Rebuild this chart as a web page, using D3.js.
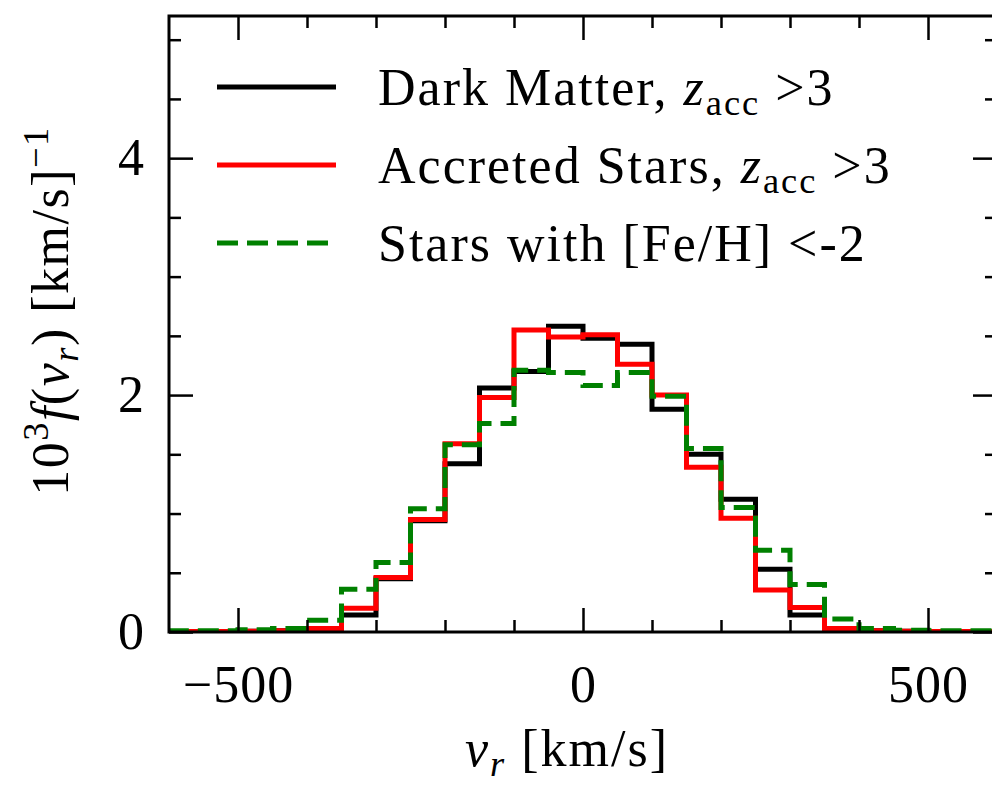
<!DOCTYPE html>
<html>
<head>
<meta charset="utf-8">
<script src="https://cdn.jsdelivr.net/npm/d3@7"></script>
<style>
    body { margin: 0; background: #fff; }
    svg { display: block; }
    text { font-family: "Liberation Serif", "DejaVu Serif", serif; fill: #000; }
</style>
</head>
<body>
<div id="chart"></div>
<script>
// histogram bin edges, v_r in km/s
const binEdges = [-600, -550, -500, -450, -400, -350, -300, -250, -200, -150, -100, -50,
    0, 50, 100, 150, 200, 250, 300, 350, 400, 450, 500, 550, 600];

// 10^3 f(v_r) per bin
const darkMatter = [0.003, 0.004, 0.006, 0.01, 0.025, 0.144, 0.45, 0.94, 1.42, 2.06, 2.20, 2.58,
    2.48, 2.43, 1.88, 1.50, 1.12, 0.53, 0.144, 0.025, 0.01, 0.006, 0.004, 0.003];
const accretedStars = [0.004, 0.005, 0.006, 0.01, 0.03, 0.20, 0.46, 0.95, 1.59, 1.98, 2.55, 2.49,
    2.51, 2.26, 2.00, 1.39, 0.96, 0.355, 0.206, 0.03, 0.01, 0.006, 0.005, 0.004];
const metalPoorStars = [0.01, 0.01, 0.02, 0.03, 0.10, 0.36, 0.586, 1.04, 1.58, 1.76, 2.21, 2.19,
    2.08, 2.19, 1.99, 1.55, 1.05, 0.69, 0.40, 0.11, 0.03, 0.015, 0.01, 0.01];

const xMajorTicks = [-500, 0, 500];
const xMinorTicks = [-400, -300, -200, -100, 100, 200, 300, 400];
const yMajorTicks = [0, 2, 4];
const yMinorTicks = [0.5, 1, 1.5, 2.5, 3, 3.5, 4.5, 5];

const series = [
    {values: darkMatter, color: "#000000", dash: null,
        label: [["Dark Matter, "], ["z", "it"], ["acc", "sub"], [" >3"]]},
    {values: accretedStars, color: "#ff0000", dash: null,
        label: [["Accreted Stars, "], ["z", "it"], ["acc", "sub"], [" >3"]]},
    {values: metalPoorStars, color: "#008000", dash: "21,9",
        label: [["Stars with [Fe/H] <-2"]]}
];

const width = 992, height = 785;
const margin = {top: 16, right: -5, bottom: 153, left: 169};
const fontSize = 52;

const svg = d3.select("#chart").append("svg")
    .attr("width", width)
    .attr("height", height);

const x = d3.scaleLinear()
    .domain([-600, 600])
    .range([margin.left, width - margin.right]);

const y = d3.scaleLinear()
    .domain([0, 5.2])
    .range([height - margin.bottom, margin.top]);

svg.append("clipPath")
    .attr("id", "plot-clip")
    .append("rect")
    .attr("x", x(-600))
    .attr("y", y(5.2))
    .attr("width", x(600) - x(-600))
    .attr("height", y(0) - y(5.2));

// step outline like matplotlib histtype="step"
function stepPoints(values) {
    const pts = [[binEdges[0], 0]];
    values.forEach((v, i) => {
        pts.push([binEdges[i], v]);
        pts.push([binEdges[i + 1], v]);
    });
    pts.push([binEdges[binEdges.length - 1], 0]);
    return pts;
}

const line = d3.line()
    .x(d => x(d[0]))
    .y(d => y(d[1]));

svg.append("g")
    .attr("clip-path", "url(#plot-clip)")
    .selectAll("path")
    .data(series)
    .join("path")
    .attr("d", d => line(stepPoints(d.values)))
    .attr("fill", "none")
    .attr("stroke", d => d.color)
    .attr("stroke-width", 5)
    .attr("stroke-linejoin", "miter")
    .attr("stroke-dasharray", d => d.dash);

// ticks point inwards on all four sides
function tickGroup(axis, transform) {
    const g = svg.append("g")
        .attr("transform", transform)
        .call(axis);
    g.select(".domain").remove();
    g.selectAll(".tick line").attr("stroke", "#000").attr("stroke-width", 2.5);
    g.selectAll("text")
        .style("font-family", '"Liberation Serif", serif')
        .style("font-size", fontSize + "px")
        .style("letter-spacing", "1px")
        .attr("fill", "#000");
    return g;
}

const y0 = y(0), yTop = y(5.2), xLeft = x(-600), xRight = x(600);
const intFormat = d3.format("d");

tickGroup(d3.axisBottom(x).tickValues(xMajorTicks).tickSizeInner(-24).tickSizeOuter(0)
    .tickFormat(intFormat).tickPadding(33), `translate(0,${y0})`);
tickGroup(d3.axisBottom(x).tickValues(xMinorTicks).tickSizeInner(-12).tickSizeOuter(0)
    .tickFormat(""), `translate(0,${y0})`);
tickGroup(d3.axisTop(x).tickValues(xMajorTicks).tickSizeInner(-24).tickSizeOuter(0)
    .tickFormat(""), `translate(0,${yTop})`);
tickGroup(d3.axisTop(x).tickValues(xMinorTicks).tickSizeInner(-12).tickSizeOuter(0)
    .tickFormat(""), `translate(0,${yTop})`);

tickGroup(d3.axisLeft(y).tickValues(yMajorTicks).tickSizeInner(-24).tickSizeOuter(0)
    .tickFormat(intFormat).tickPadding(24), `translate(${xLeft},0)`);
tickGroup(d3.axisLeft(y).tickValues(yMinorTicks).tickSizeInner(-12).tickSizeOuter(0)
    .tickFormat(""), `translate(${xLeft},0)`);
tickGroup(d3.axisRight(y).tickValues(yMajorTicks).tickSizeInner(-24).tickSizeOuter(0)
    .tickFormat(""), `translate(${xRight},0)`);
tickGroup(d3.axisRight(y).tickValues(yMinorTicks).tickSizeInner(-12).tickSizeOuter(0)
    .tickFormat(""), `translate(${xRight},0)`);

// frame
svg.append("rect")
    .attr("x", xLeft)
    .attr("y", yTop)
    .attr("width", xRight - xLeft)
    .attr("height", y0 - yTop)
    .attr("fill", "none")
    .attr("stroke", "#000")
    .attr("stroke-width", 3);

// writes [text, style] parts as tspans, handling sub/superscripts
function richText(sel, parts) {
    let shift = 0;
    parts.forEach(([t, style]) => {
        const ts = sel.append("tspan").text(t);
        let target = 0;
        if (style === "it" || style === "itsub") ts.style("font-style", "italic");
        if (style === "sub" || style === "itsub" || style === "sup") {
            ts.style("font-size", "70%");
        }
        if (style === "sub" || style === "itsub") target = 0.2 * fontSize;
        if (style === "sup") target = -0.38 * fontSize;
        if (target !== shift) {
            ts.attr("dy", target - shift);
            shift = target;
        }
    });
}

// legend
const legend = svg.append("g");
series.forEach((s, i) => {
    const rowY = 87 + i * 78;
    legend.append("line")
        .attr("x1", 217)
        .attr("x2", 336)
        .attr("y1", rowY)
        .attr("y2", rowY)
        .attr("stroke", s.color)
        .attr("stroke-width", 5)
        .attr("stroke-dasharray", s.dash);
    const t = legend.append("text")
        .attr("x", 378)
        .attr("y", rowY + 18)
        .style("font-size", fontSize + "px")
        .style("letter-spacing", "2px");
    richText(t, s.label);
});

// axis labels
const xLabel = svg.append("text")
    .attr("x", 465)
    .attr("y", 766)
    .style("font-size", fontSize + "px")
    .style("letter-spacing", "2px");
richText(xLabel, [["v", "it"], ["r", "itsub"], ["  [km/s]"]]);

const yLabel = svg.append("text")
    .attr("transform", "translate(68,311) rotate(-90)")
    .attr("text-anchor", "middle")
    .style("font-size", fontSize + "px")
    .style("letter-spacing", "1.5px");
richText(yLabel, [["10"], ["3", "sup"], ["f", "it"], ["("], ["v", "it"], ["r", "itsub"],
    [")  [km/s]"], ["\u22121", "sup"]]);
</script>
</body>
</html>
